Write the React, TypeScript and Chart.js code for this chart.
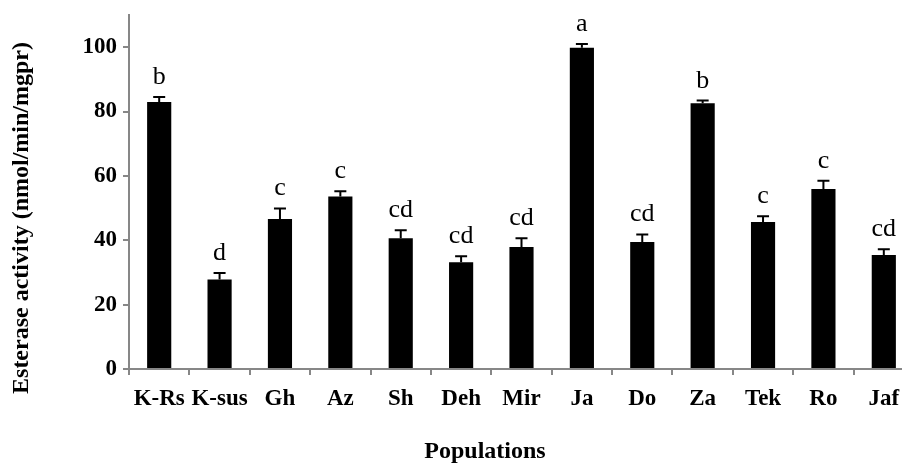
import { useEffect, useRef } from "react";
import { Chart, registerables } from "chart.js";

Chart.register(...registerables);

// Populations sampled
const categories = ["K-Rs", "K-sus", "Gh", "Az", "Sh", "Deh", "Mir", "Ja", "Do", "Za", "Tek", "Ro", "Jaf"];
// Mean esterase activity (nmol/min/mg protein)
const means = [83.0, 27.8, 46.6, 53.6, 40.6, 33.2, 37.9, 99.8, 39.5, 82.6, 45.7, 55.9, 35.4];
// Standard error of each mean
const errors = [1.5, 2.0, 3.3, 1.6, 2.5, 1.8, 2.7, 1.2, 2.3, 0.8, 1.8, 2.6, 1.8];
// Significance groups
const letters = ["b", "d", "c", "c", "cd", "cd", "cd", "a", "cd", "b", "c", "c", "cd"];

const yTicks = [0, 20, 40, 60, 80, 100];
const xTitle = "Populations";
const yTitle = "Esterase activity (nmol/min/mgpr)";

const SERIF = "'Liberation Serif', 'Times New Roman', Times, serif";
const AXIS_GREY = "#878787";

export default function App() {
  const ref = useRef<HTMLCanvasElement>(null);

  useEffect(() => {
    const canvas = ref.current;
    if (!canvas) return;

    // Error bars, group letters and the axis titles
    const annotate = {
      id: "annotate",
      afterDatasetsDraw(chart: any) {
        const { ctx, chartArea } = chart;
        const y = chart.scales.y;
        const meta = chart.getDatasetMeta(0);
        ctx.save();
        meta.data.forEach((bar: any, i: number) => {
          const cx = bar.x;
          const top = y.getPixelForValue(means[i]);
          const tip = y.getPixelForValue(means[i] + errors[i]);
          ctx.strokeStyle = "#000";
          ctx.lineWidth = 2;
          ctx.beginPath();
          ctx.moveTo(cx, top);
          ctx.lineTo(cx, tip);
          ctx.moveTo(cx - 6, tip);
          ctx.lineTo(cx + 6, tip);
          ctx.stroke();

          ctx.fillStyle = "#000";
          ctx.font = `26px ${SERIF}`;
          ctx.textAlign = "center";
          ctx.textBaseline = "alphabetic";
          ctx.fillText(letters[i], cx, tip - 13);
        });

        ctx.fillStyle = "#000";
        ctx.font = `bold 24px ${SERIF}`;
        ctx.textAlign = "center";
        ctx.textBaseline = "middle";
        ctx.fillText(xTitle, chartArea.left + 356, 452);

        ctx.translate(22, 218);
        ctx.rotate(-Math.PI / 2);
        ctx.fillText(yTitle, 0, 0);
        ctx.restore();
      },
    };

    const tickFont = { family: SERIF, size: 23, weight: "bold" as const };

    const chart = new Chart(canvas, {
      type: "bar",
      data: {
        labels: categories,
        datasets: [
          {
            data: means,
            backgroundColor: "#000",
            borderWidth: 0,
            barPercentage: 0.4,
            categoryPercentage: 1,
          },
        ],
      },
      options: {
        responsive: false,
        animation: false,
        devicePixelRatio: 1,
        layout: { padding: { top: 15, right: 6, left: 0, bottom: 0 } },
        plugins: { legend: { display: false }, tooltip: { enabled: false } },
        scales: {
          x: {
            type: "category",
            offset: true,
            grid: {
              offset: true,
              drawOnChartArea: false,
              tickLength: 6,
              color: AXIS_GREY,
              lineWidth: 2,
            },
            border: { color: AXIS_GREY, width: 2 },
            ticks: {
              color: "#000",
              font: tickFont,
              padding: 10,
              maxRotation: 0,
              autoSkip: false,
            },
            afterFit(scale: any) {
              scale.height = 94;
              scale.paddingLeft = 0;
              scale.paddingRight = 0;
            },
          },
          y: {
            min: 0,
            max: 110,
            afterBuildTicks(scale: any) {
              scale.ticks = yTicks.map((v) => ({ value: v }));
            },
            ticks: {
              color: "#000",
              font: tickFont,
              padding: 6,
            },
            grid: {
              drawOnChartArea: false,
              tickLength: 6,
              color: AXIS_GREY,
              lineWidth: 2,
            },
            border: { color: AXIS_GREY, width: 2 },
            afterFit(scale: any) {
              scale.width = 129;
              scale.paddingTop = 0;
              scale.paddingBottom = 0;
            },
          },
        },
      },
      plugins: [annotate],
    });

    return () => chart.destroy();
  }, []);

  return (
    <div
      style={{
        position: "fixed",
        left: 0,
        top: 0,
        width: 902,
        height: 463,
        overflow: "hidden",
        background: "#fff",
      }}
    >
      <canvas ref={ref} width={920} height={463} style={{ display: "block" }} />
    </div>
  );
}
